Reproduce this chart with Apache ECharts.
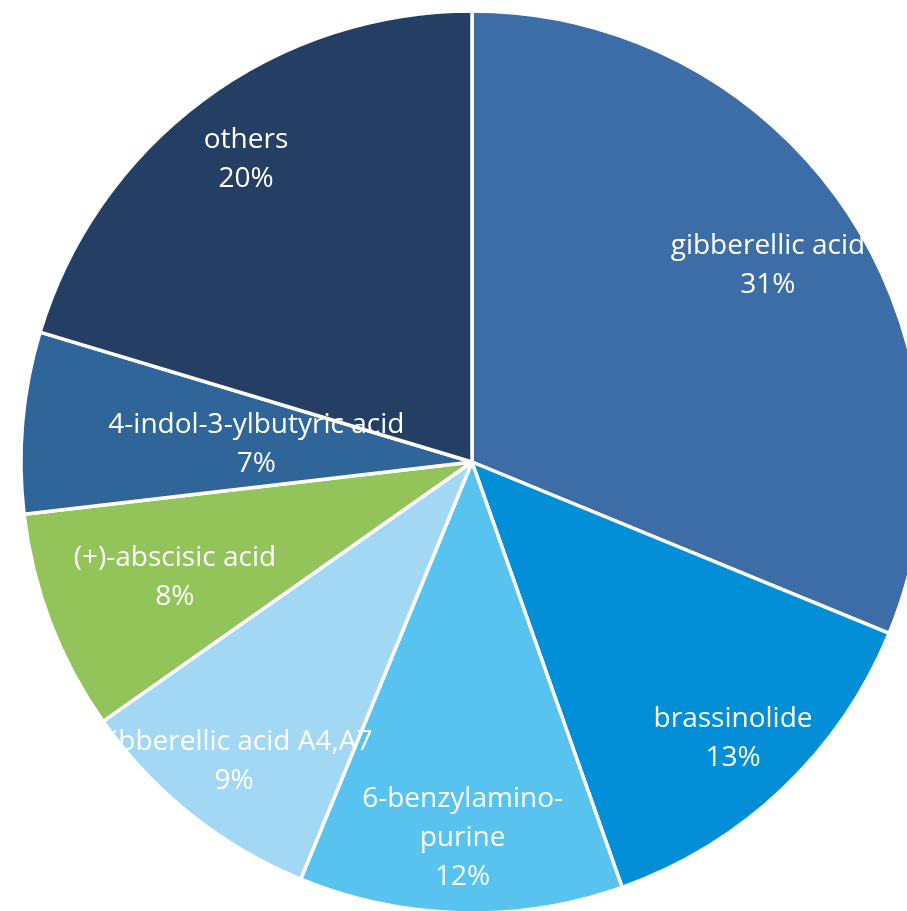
<!DOCTYPE html>
<html>
<head>
<meta charset="utf-8">
<script src="https://cdn.jsdelivr.net/npm/echarts@6/dist/echarts.min.js"></script>
<style>html,body{margin:0;padding:0;background:#fff;}#c{width:907px;height:911px;}</style>
</head>
<body>
<div id="c"></div>
<script>
const categories = ['gibberellic acid', 'brassinolide', '6-benzylamino-purine', 'gibberellic acid A4,A7', '(+)-abscisic acid', '4-indol-3-ylbutyric acid', 'others'];
const values = [31.2, 13.4, 11.6, 9.05, 7.9, 6.5, 20.35];
const colors = ['#3D6DA6', '#028FD7', '#58C3EF', '#A2D8F4', '#92C45A', '#2F6599', '#243F63'];
const labelRadiusFrac = [0.79, 0.84, 0.83, 0.845, 0.705, 0.48, 0.84];

const CX = 472, CY = 462, R = 451;
const total = values.reduce((a, b) => a + b, 0);
const midAngles = [];
let acc = 0;
values.forEach(v => { midAngles.push((acc + v / 2) / total * 2 * Math.PI); acc += v; });

const chart = echarts.init(document.getElementById('c'), null, {renderer: 'canvas'});
chart.setOption({
  animation: false,
  series: [{
    type: 'pie',
    center: [CX, CY],
    radius: [0, R],
    startAngle: 90,
    clockwise: true,
    avoidLabelOverlap: false,
    itemStyle: {borderColor: '#fff', borderWidth: 3.5},
    label: {
      show: true,
      position: 'inside',
      color: '#fff',
      fontFamily: 'Open Sans',
      fontSize: 28,
      lineHeight: 39,
      formatter: p => p.name.replace('amino-', 'amino-\n') + '\n' + Math.round(p.percent) + '%'
    },
    labelLine: {show: false},
    labelLayout: function (p) {
      const a = midAngles[p.dataIndex];
      const r = R * labelRadiusFrac[p.dataIndex];
      return {x: CX + r * Math.sin(a), y: CY - r * Math.cos(a) + 2, align: 'center', verticalAlign: 'middle'};
    },
    data: categories.map((c, i) => ({name: c, value: values[i], itemStyle: {color: colors[i]}}))
  }]
});
</script>
</body>
</html>
